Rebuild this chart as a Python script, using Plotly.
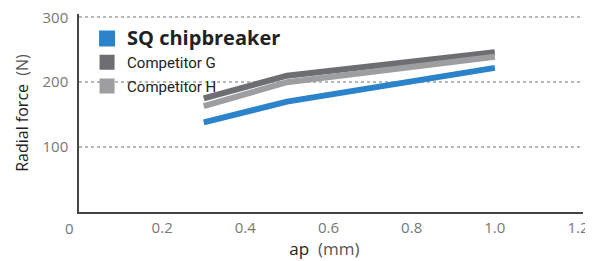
import plotly.graph_objects as go

ap = [0.3, 0.5, 1.0]
sq = [138, 170, 222]
comp_g = [175, 210, 246]
comp_h = [163, 200, 239]

series_names = ["SQ chipbreaker", "Competitor G", "Competitor H"]
series_vals = [sq, comp_g, comp_h]
colors = ["#2a83cb", "#6d6e71", "#9d9ea0"]
narrow = "font-family:Roboto, sans-serif;font-size:15px"
legend_labels = [
    "<b><span style='font-size:20px'>SQ chipbreaker</span></b>",
    f"<span style='{narrow}'>Competitor G</span>",
    f"<span style='{narrow}'>Competitor H</span>",
]
marker_sizes = [16, 15, 15]

x_ticks = [0.2, 0.4, 0.6, 0.8, 1.0, 1.2]
x_ticktext = ["0.2", "0.4", "0.6", "0.8", "1.0", "1.2"]
y_ticks = [100, 200, 300]

fig = go.Figure()
for i in [1, 2, 0]:
    fig.add_trace(go.Scatter(
        x=ap, y=series_vals[i], mode="lines",
        line=dict(color=colors[i], width=6),
        showlegend=False, hoverinfo="skip"))
for i in range(3):
    fig.add_trace(go.Scatter(
        x=[None], y=[None], mode="markers",
        marker=dict(symbol="square", size=marker_sizes[i], color=colors[i]),
        name=legend_labels[i]))

fig.add_annotation(x=0, y=0, xref="x", yref="y", text="0", showarrow=False,
                   xanchor="right", yanchor="top", xshift=-3, yshift=-4,
                   font=dict(size=15, color="#777777", family="Open Sans"))

# page body has an 8px margin: figure is sized/offset to compensate
fig.update_layout(
    width=585, height=253,
    margin=dict(l=71, r=10, t=6, b=49),
    paper_bgcolor="white", plot_bgcolor="white",
    font=dict(family="Open Sans", color="#333333"),
    legend=dict(x=0.016, y=0.962, xanchor="left", yanchor="top",
                bgcolor="rgba(0,0,0,0)", tracegroupgap=0, itemsizing="trace",
                font=dict(family="Open Sans", size=16, color="#222222")),
    xaxis=dict(range=[0, 1.212], tickvals=x_ticks, ticktext=x_ticktext,
               showline=True, linecolor="#444444", linewidth=1.5,
               showgrid=False, zeroline=False, ticks="", automargin=False,
               ticklabelstandoff=1, ticklabeloverflow="allow",
               tickfont=dict(size=15, color="#777777", family="Open Sans"),
               title=dict(text="ap&nbsp;&nbsp;<span style='color:#555555'>(mm)</span>&nbsp;&nbsp;&nbsp;",
                          font=dict(size=17, color="#222222", family="Open Sans"),
                          standoff=0)),
    yaxis=dict(range=[0, 305], tickvals=y_ticks,
               showline=True, linecolor="#444444", linewidth=1.5,
               showgrid=True, gridcolor="#b8b8b8", gridwidth=1.5, griddash="dot",
               zeroline=False, ticks="", automargin=False,
               ticklabelstandoff=6, ticklabeloverflow="allow",
               tickfont=dict(size=15, color="#777777", family="Open Sans"),
               title=dict(text="Radial force&nbsp;&nbsp;<span style='color:#555555'>(N)</span>",
                          font=dict(size=16, color="#222222", family="Open Sans"),
                          standoff=10)),
)

fig.write_html("out.html")
